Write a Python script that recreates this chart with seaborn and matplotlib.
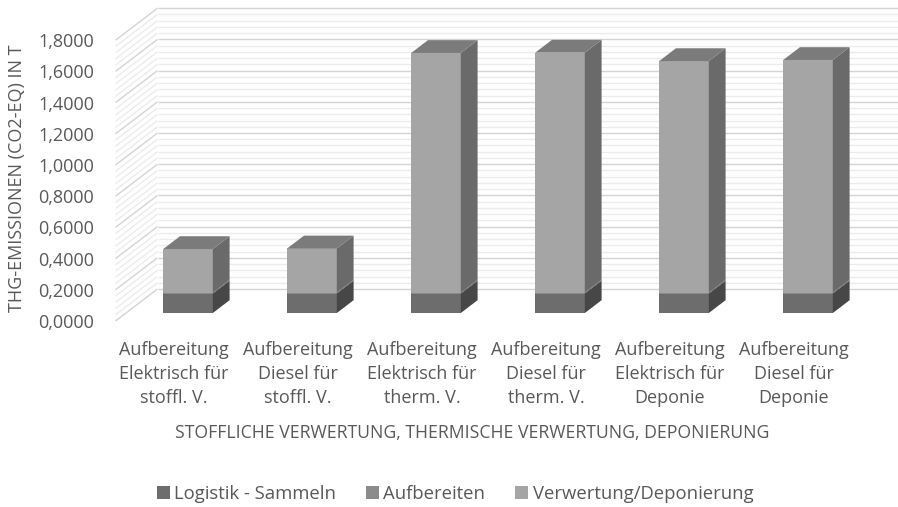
import numpy as np
import pandas as pd
import matplotlib
matplotlib.use("Agg")
import matplotlib.pyplot as plt
import matplotlib.transforms as mtransforms
from matplotlib.patches import Patch, Polygon
import seaborn as sns

# --- data -------------------------------------------------------------
categories = [
    "Aufbereitung\nElektrisch für\nstoffl. V.",
    "Aufbereitung\nDiesel für\nstoffl. V.",
    "Aufbereitung\nElektrisch für\ntherm. V.",
    "Aufbereitung\nDiesel für\ntherm. V.",
    "Aufbereitung\nElektrisch für\nDeponie",
    "Aufbereitung\nDiesel für\nDeponie",
]
series_names = ["Logistik - Sammeln", "Aufbereiten", "Verwertung/Deponierung"]
logistik = [0.125, 0.125, 0.125, 0.125, 0.125, 0.125]
aufbereiten = [0.005, 0.006, 0.005, 0.006, 0.005, 0.006]
verwertung = [0.280, 0.283, 1.537, 1.538, 1.485, 1.491]
y_ticks = [0.0, 0.2, 0.4, 0.6, 0.8, 1.0, 1.2, 1.4, 1.6, 1.8]
y_tick_labels = [f"{v:.4f}".replace(".", ",") for v in y_ticks]
y_title = "THG-EMISSIONEN (CO2-EQ) IN T"
x_title = "STOFFLICHE VERWERTUNG, THERMISCHE VERWERTUNG, DEPONIERUNG"

# --- styling ------------------------------------------------------------
sns.set_style("white")
plt.rcParams["font.family"] = ["Open Sans", "DejaVu Sans"]
TEXT = "#595959"
front_colors = ["#6d6d6d", "#8b8b8b", "#a5a5a5"]
side_colors = ["#474747", "#5e5e5e", "#6a6a6a"]
top_color = "#7b7b7b"
MAJOR = "#d4d4d4"
MINOR = "#ececec"

W, H, DPI = 898, 507, 100
fig = plt.figure(figsize=(W / DPI, H / DPI), dpi=DPI)

# axes = the plane in which the bar fronts stand
AX_L, AX_R, AX_B = 126, 870, 313
Y_MAX = 1.8
SY = 156.0  # px per unit
ax_h = Y_MAX * SY
ax = fig.add_axes([AX_L / W, (H - AX_B) / H, (AX_R - AX_L) / W, ax_h / H])
n = len(categories)
SX = (AX_R - AX_L) / n

# cumulative stack heights
df = pd.DataFrame({"cat": categories, "l": logistik, "a": aufbereiten, "v": verwertung})
df["c1"] = df["l"]
df["c2"] = df["l"] + df["a"]
df["c3"] = df["c2"] + df["v"]

BAR_W = 0.4
for col, color in zip(["c3", "c2", "c1"], front_colors[::-1]):
    sns.barplot(data=df, x="cat", y=col, color=color, saturation=1, width=BAR_W,
                linewidth=0, ax=ax, zorder=3, errorbar=None)

ax.set_xlim(-0.5, n - 0.5)
ax.set_ylim(0, Y_MAX)


def depth(d):
    """offset (data units) for a move of d along the 3-D depth axis"""
    return d * 42 / SX, d * 32 / SY


# back wall and left wall gridlines
bx, by = depth(0.75)
fx, fy = depth(-0.25)
minor_vals = np.round(np.arange(0, Y_MAX + 1e-9, 0.04), 4)
for v in minor_vals:
    is_major = abs(v / 0.2 - round(v / 0.2)) < 1e-6
    c = MAJOR if is_major else MINOR
    z = 0.6 if is_major else 0.5
    ax.plot([-0.5 + bx, n - 0.5 + bx], [v + by, v + by], color=c, lw=1.0,
            clip_on=False, zorder=z, solid_capstyle="butt")
    ax.plot([-0.5 + fx, -0.5 + bx], [v + fy, v + by], color=c, lw=1.0,
            clip_on=False, zorder=z, solid_capstyle="butt")

# side and top faces of the bars
ddx, ddy = depth(0.4)
for i, row in df.iterrows():
    bounds = [0, row["c1"], row["c2"], row["c3"]]
    xr = i + BAR_W / 2
    xl = i - BAR_W / 2
    for k in range(3):
        lo, hi = bounds[k], bounds[k + 1]
        ax.add_patch(Polygon([(xr, lo), (xr, hi), (xr + ddx, hi + ddy), (xr + ddx, lo + ddy)],
                             closed=True, facecolor=side_colors[k], edgecolor="none",
                             zorder=3, clip_on=False))
    top = bounds[-1]
    ax.add_patch(Polygon([(xl, top), (xr, top), (xr + ddx, top + ddy), (xl + ddx, top + ddy)],
                         closed=True, facecolor=top_color, edgecolor="none",
                         zorder=3, clip_on=False))

# axes cosmetics
for s in ax.spines.values():
    s.set_visible(False)
ax.set_facecolor("none")
ax.grid(False)

ax.set_yticks(y_ticks, y_tick_labels)
ax.tick_params(axis="y", length=0, pad=23, labelsize=13, labelcolor=TEXT)
ax.set_xticks(range(n), categories)
ax.tick_params(axis="x", length=0, pad=20, labelsize=13, labelcolor=TEXT)
for lab in ax.get_xticklabels():
    lab.set_linespacing(1.42)

y_shift = mtransforms.ScaledTranslation(0, -8 / DPI, fig.dpi_scale_trans)
for lab in ax.get_yticklabels():
    lab.set_transform(lab.get_transform() + y_shift)
x_shift = mtransforms.ScaledTranslation(-14 / DPI, 0, fig.dpi_scale_trans)
for lab in ax.get_xticklabels():
    lab.set_transform(lab.get_transform() + x_shift)

ax.set_ylabel(y_title, fontsize=13, color=TEXT, va="center")
ax.yaxis.set_label_coords((17 - AX_L) / (AX_R - AX_L), (AX_B - 178) / ax_h)
ax.set_xlabel(x_title, fontsize=12.7, color=TEXT, va="center")
ax.xaxis.set_label_coords((472 - AX_L) / (AX_R - AX_L), (AX_B - 433) / ax_h)

handles = [Patch(facecolor=c, edgecolor="none") for c in front_colors]
leg = fig.legend(handles, series_names, loc="center", bbox_to_anchor=(455 / W, 1 - 494 / H),
                 ncol=3, frameon=False, fontsize=13.3, handlelength=0.7, handleheight=0.7,
                 handletextpad=0.25, columnspacing=1.6)
for t in leg.get_texts():
    t.set_color(TEXT)

fig.savefig("out.png", dpi=DPI, facecolor="white")
